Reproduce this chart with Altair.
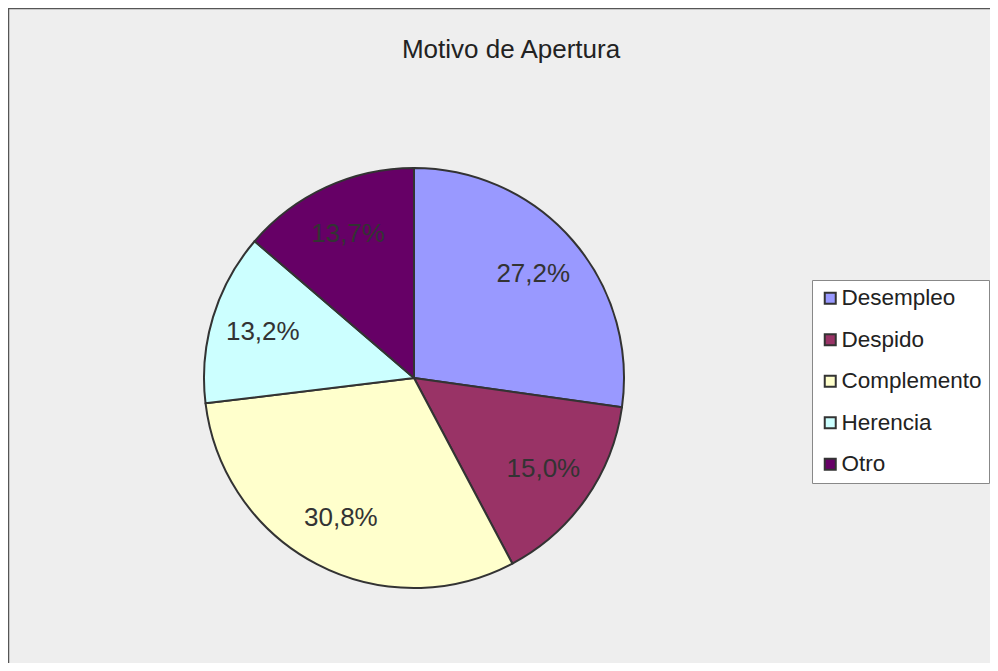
import altair as alt
import pandas as pd

categories = ["Desempleo", "Despido", "Complemento", "Herencia", "Otro"]
values = [27.2, 15.0, 30.8, 13.2, 13.7]
colors = ["#9999FF", "#993366", "#FFFFCC", "#CCFFFF", "#660066"]
title_text = "Motivo de Apertura"

labels = [f"{v:.1f}%".replace(".", ",") for v in values]
df = pd.DataFrame({
    "categoria": categories,
    "valor": values,
    "etiqueta": labels,
    "orden": list(range(len(categories))),
})

W, H = 982, 655
CX, CY, R = 406, 370, 210

base = alt.Chart(df).encode(
    theta=alt.Theta("valor:Q", stack=True),
    order=alt.Order("orden:Q", sort="ascending"),
)

pie = base.mark_arc(stroke="#333333", strokeWidth=2, strokeJoin="round").encode(
    x=alt.value(CX),
    y=alt.value(CY),
    radius=alt.value(R),
    color=alt.Color(
        "categoria:N",
        scale=alt.Scale(domain=categories, range=colors),
        legend=alt.Legend(
            title=None,
            orient="none",
            legendX=804,
            legendY=272,
            fillColor="#FFFFFF",
            strokeColor="#888888",
            padding=7,
            symbolType="square",
            symbolSize=121,
            symbolStrokeColor="#333333",
            symbolStrokeWidth=2,
            labelFont="Liberation Sans",
            labelFontSize=22.5,
            labelColor="#222222",
            labelOffset=0,
            rowPadding=18.5,
            labelLimit=300,
        ),
    ),
)

text = base.mark_text(
    font="Liberation Sans Narrow, Arial Narrow, Liberation Sans",
    fontSize=26,
    color="#333333",
    align="center",
    baseline="middle",
).encode(
    x=alt.value(CX),
    y=alt.value(CY),
    radius=alt.value(158),
    detail="categoria:N",
    text="etiqueta:N",
)

title = alt.Chart(alt.Data(values=[{"t": title_text}])).mark_text(
    font="Liberation Sans",
    fontSize=26,
    color="#222222",
    align="center",
    baseline="middle",
).encode(x=alt.value(503), y=alt.value(42), text="t:N")

border_data = alt.Data(values=[{"k": 1}])
top_rule = alt.Chart(border_data).mark_rule(color="#555555", strokeWidth=1.5).encode(
    x=alt.value(0), x2=alt.value(W), y=alt.value(0.5)
)
left_rule = alt.Chart(border_data).mark_rule(color="#555555", strokeWidth=1.5).encode(
    x=alt.value(0.5), y=alt.value(0), y2=alt.value(H)
)

chart = alt.layer(pie, text, title, top_rule, left_rule).properties(
    width=W,
    height=H,
    autosize=alt.AutoSizeParams(type="none"),
    padding=0,
    background="#EEEEEE",
).configure_view(stroke=None)

chart.save("out.html", embed_options={"renderer": "svg", "actions": False})
